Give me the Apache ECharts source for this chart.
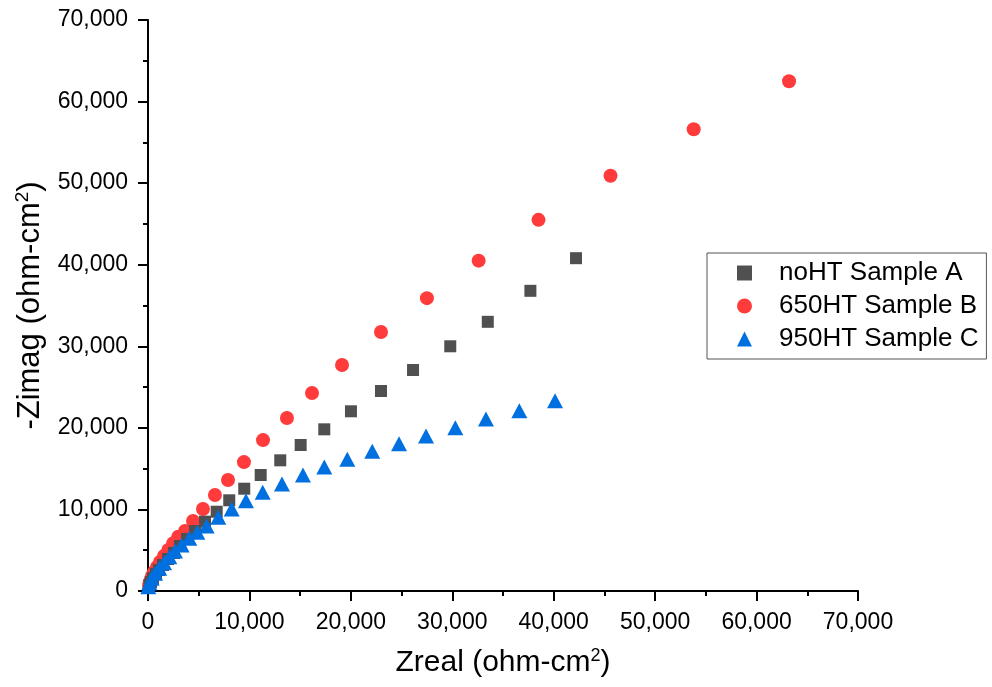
<!DOCTYPE html>
<html>
<head>
<meta charset="utf-8">
<script src="https://cdn.jsdelivr.net/npm/echarts@6/dist/echarts.min.js"></script>
<style>
html,body{margin:0;padding:0;background:#fff;}
#c{width:992px;height:687px;}
</style>
</head>
<body>
<div id="c"></div>
<script>
const seriesNames = ['noHT Sample A', '650HT Sample B', '950HT Sample C'];
const xTicks = [0, 10000, 20000, 30000, 40000, 50000, 60000, 70000];
const yTicks = [0, 10000, 20000, 30000, 40000, 50000, 60000, 70000];

const aX = [150, 300, 490, 790, 1080, 1480, 1970, 2560, 3150, 3850, 4630, 5620, 6770, 8010, 9490, 11110, 13040, 15050, 17380, 20010, 22970, 26130, 29800, 33500, 37700, 42200];
const aY = [740, 1100, 1590, 2080, 2570, 3190, 3920, 4660, 5520, 6380, 7360, 8500, 9720, 11120, 12540, 14220, 16020, 17900, 19820, 22030, 24520, 27090, 30000, 33000, 36800, 40800];

const bX = [100, 150, 250, 390, 590, 890, 1180, 1580, 2000, 2490, 2990, 3650, 4440, 5420, 6600, 7890, 9460, 11340, 13700, 16170, 19130, 22970, 27500, 32600, 38500, 45600, 53800, 63200];
const bY = [610, 980, 1350, 1840, 2330, 2940, 3560, 4290, 5030, 5850, 6660, 7360, 8580, 10050, 11770, 13600, 15800, 18500, 21200, 24270, 27700, 31750, 35900, 40500, 45500, 50900, 56600, 62500];

const cX = [30, 130, 360, 690, 1110, 1580, 2100, 2660, 3320, 4070, 4860, 5780, 6930, 8250, 9660, 11310, 13210, 15280, 17380, 19650, 22110, 24750, 27410, 30300, 33320, 36610, 40130];
const cY = [530, 1020, 1560, 2170, 2780, 3470, 4200, 4900, 5640, 6460, 7200, 7970, 9030, 10050, 11070, 12100, 13120, 14220, 15200, 16150, 17130, 18060, 19000, 20020, 21090, 22100, 23330];

const pairs = (xs, ys) => xs.map((x, i) => [x, ys[i]]);
const FONT = 'Arial, "Liberation Sans", sans-serif';
const fmt = v => Number(v).toLocaleString('en-US');

const axisCommon = {
  min: xTicks[0],
  max: xTicks[xTicks.length - 1],
  interval: xTicks[1] - xTicks[0],
  axisLine: {show: true, lineStyle: {color: '#000', width: 2}},
  axisTick: {show: true, inside: false, length: 10, lineStyle: {color: '#000', width: 2}},
  minorTick: {show: true, splitNumber: 2, length: 5, lineStyle: {color: '#000', width: 2}},
  splitLine: {show: false},
  axisLabel: {color: '#000', fontSize: 23, fontFamily: FONT, formatter: fmt},
  nameLocation: 'middle'
};

const chart = echarts.init(document.getElementById('c'), null, {renderer: 'canvas'});
chart.setOption({
  backgroundColor: '#fff',
  animation: false,
  grid: {left: 148, right: 134, top: 20, bottom: 96, containLabel: false},
  xAxis: Object.assign({}, axisCommon, {
    type: 'value',
    axisLabel: Object.assign({}, axisCommon.axisLabel, {margin: 20}),
    name: '{a|Zreal (ohm-cm}{s|2}{a|)}',
    nameGap: 54,
    nameTextStyle: {
      rich: {
        a: {fontSize: 30, fontFamily: FONT, color: '#000', lineHeight: 36},
        s: {fontSize: 18, fontFamily: FONT, color: '#000', lineHeight: 36, padding: [0, 0, 14, 0]}
      }
    }
  }),
  yAxis: Object.assign({}, axisCommon, {
    type: 'value',
    min: yTicks[0],
    max: yTicks[yTicks.length - 1],
    interval: yTicks[1] - yTicks[0],
    axisLabel: Object.assign({}, axisCommon.axisLabel, {margin: 20}),
    name: '{a|-Zimag (ohm-cm}{s|2}{a|)}',
    nameGap: 86,
    nameTextStyle: {
      rich: {
        a: {fontSize: 31, fontFamily: FONT, color: '#000', lineHeight: 36},
        s: {fontSize: 19, fontFamily: FONT, color: '#000', lineHeight: 36, padding: [0, 0, 14, 0]}
      }
    }
  }),
  legend: {
    orient: 'vertical',
    left: 707,
    top: 253,
    padding: [7, 8, 7, 30],
    itemGap: 7,
    itemWidth: 15,
    itemHeight: 15,
    borderColor: '#555',
    borderWidth: 1,
    textStyle: {fontSize: 26, fontFamily: FONT, color: '#000', padding: [0, 0, 0, 22]},
    data: [
      {name: seriesNames[0], icon: 'rect'},
      {name: seriesNames[1], icon: 'circle'},
      {name: seriesNames[2], icon: 'triangle'}
    ]
  },
  series: [
    {
      name: seriesNames[0], type: 'scatter', symbol: 'rect', symbolSize: 12, z: 3,
      itemStyle: {color: '#505050', opacity: 1},
      data: pairs(aX, aY)
    },
    {
      name: seriesNames[1], type: 'scatter', symbol: 'circle', symbolSize: 14, z: 2,
      itemStyle: {color: '#FF3B3B', opacity: 1},
      data: pairs(bX, bY)
    },
    {
      name: seriesNames[2], type: 'scatter', symbol: 'triangle', symbolSize: [16, 15], z: 4,
      itemStyle: {color: '#0070E0', opacity: 1},
      data: pairs(cX, cY)
    }
  ]
});
</script>
</body>
</html>
